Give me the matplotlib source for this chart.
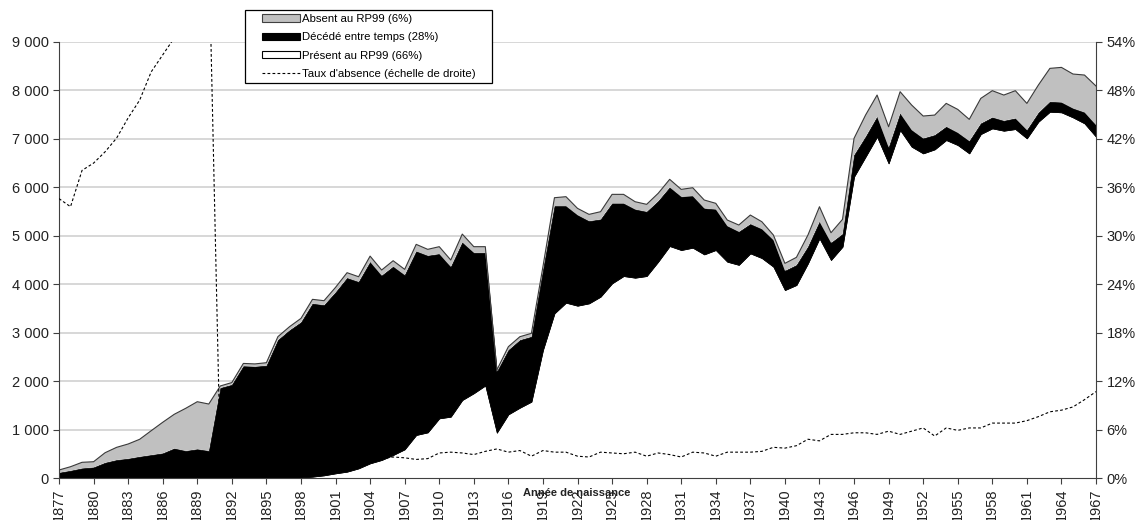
import numpy as np
import matplotlib
matplotlib.use('Agg')
import matplotlib.pyplot as plt
from matplotlib.patches import Patch, Rectangle
from matplotlib.lines import Line2D
from matplotlib.ticker import FuncFormatter

plt.rcParams['font.family'] = ['Liberation Sans', 'DejaVu Sans']

#------- donnees -----------------------------------------------------
annees = np.arange(1877, 1968)

present = [0, 0, 0, 0, 0, 0, 0, 0, 0, 0,
           0, 0, 0, 0, 0, 0, 0, 0, 0, 0,
           0, 10, 28, 55, 96, 131, 199, 303, 372, 475,
           592, 888, 942, 1231, 1266, 1610, 1750, 1910, 936, 1314,
           1452, 1576, 2642, 3399, 3619, 3557, 3605, 3743, 4018, 4169,
           4135, 4169, 4465, 4788, 4706, 4754, 4616, 4706, 4465, 4400,
           4637, 4540, 4362, 3880, 3984, 4431, 4947, 4500, 4775, 6220,
           6632, 7045, 6495, 7183, 6839, 6701, 6784, 6976, 6873, 6701,
           7100, 7217, 7169, 7203, 7011, 7355, 7561, 7548, 7444, 7321,
           7045]

decede = [110, 151, 200, 220, 316, 372, 399, 440, 475, 510,
          610, 560, 595, 560, 1860, 1925, 2310, 2300, 2320, 2850,
          3050, 3205, 3572, 3515, 3739, 3999, 3851, 4157, 3808, 3890,
          3598, 3792, 3648, 3394, 3094, 3255, 2901, 2741, 1259, 1328,
          1396, 1341, 1648, 2215, 1995, 1871, 1699, 1596, 1651, 1500,
          1410, 1328, 1252, 1212, 1101, 1066, 950, 839, 736, 684,
          606, 599, 550, 399, 412, 344, 344, 357, 261, 447,
          413, 413, 330, 344, 344, 310, 296, 276, 255, 255,
          220, 227, 206, 221, 172, 185, 207, 206, 186, 227,
          241]

absent = [55, 82, 124, 116, 206, 261, 303, 359, 501, 640,
          705, 879, 980, 967, 40, 45, 55, 55, 60, 68,
          72, 80, 88, 90, 100, 108, 105, 120, 113, 120,
          117, 143, 130, 150, 140, 170, 124, 124, 34, 69,
          69, 69, 72, 172, 193, 138, 138, 158, 186, 186,
          158, 152, 159, 165, 151, 172, 172, 125, 124, 138,
          185, 151, 104, 152, 159, 241, 309, 206, 303, 344,
          447, 447, 426, 447, 516, 461, 412, 481, 481, 447,
          516, 551, 530, 571, 550, 572, 688, 722, 709, 770,
          805]

# taux d'absence en % (echelle de droite)
taux = [34.6, 33.6, 38.1, 39.0, 40.4, 42.1, 44.6, 46.8, 50.3, 52.4,
        54.5, 60.0, 63.0, 66.0, 2.2, 2.3, 2.4, 2.4, 2.5, 2.3,
        2.3, 2.4, 2.4, 2.5, 2.5, 2.6, 1.8, 2.2, 2.4, 2.6,
        2.5, 2.3, 2.4, 3.1, 3.2, 3.1, 2.9, 3.3, 3.6, 3.2,
        3.4, 2.7, 3.4, 3.2, 3.2, 2.7, 2.6, 3.2, 3.1, 3.0,
        3.2, 2.7, 3.1, 2.9, 2.6, 3.2, 3.1, 2.7, 3.2, 3.2,
        3.2, 3.3, 3.8, 3.7, 4.0, 4.8, 4.6, 5.4, 5.4, 5.6,
        5.6, 5.4, 5.8, 5.4, 5.8, 6.2, 5.2, 6.2, 5.9, 6.2,
        6.2, 6.8, 6.8, 6.8, 7.1, 7.6, 8.2, 8.4, 8.8, 9.7,
        10.7]

noms = ['Absent au RP99 (6%)', 'Décédé entre temps (28%)',
        'Présent au RP99 (66%)', "Taux d'absence (échelle de droite)"]

#------- plotting ----------------------------------------------------
fig = plt.figure(figsize=(11.36, 5.2), dpi=100)
ax = fig.add_axes([59/1136, 1-478/520, (1096-59)/1136, (478-42)/520])

p = np.array(present)
d = p + np.array(decede)
t = d + np.array(absent)

ax.fill_between(annees, 0, p, facecolor='white', edgecolor='black', linewidth=0.5, zorder=2)
ax.fill_between(annees, p, d, facecolor='black', edgecolor='black', linewidth=0.5, zorder=2)
ax.fill_between(annees, d, t, facecolor='#c0c0c0', edgecolor='none', zorder=2)
ax.plot(annees, t, color='#3a3a3a', linewidth=0.8, zorder=3)

ax.set_xlim(1877, 1967)
ax.set_ylim(0, 9000)
ax.set_yticks(np.arange(0, 9001, 1000))
ax.yaxis.set_major_formatter(FuncFormatter(lambda v, pos: '{:,}'.format(int(v)).replace(',', ' ')))
ax.set_xticks(np.arange(1877, 1968, 3))
ax.set_xticklabels([str(a) for a in range(1877, 1968, 3)], rotation=90)
ax.yaxis.grid(True, color='#d4d4d4', linewidth=1.3, zorder=0)
ax.set_axisbelow(True)
for s in ['top', 'right']:
    ax.spines[s].set_visible(False)
ax.spines['left'].set_color('#404040')
ax.spines['bottom'].set_color('#404040')
ax.tick_params(axis='both', direction='out', length=4, color='#404040',
               labelsize=10.5, labelcolor='#222222')

ax2 = ax.twinx()
ax2.plot(annees, taux, color='black', linewidth=0.8, linestyle=(0, (2.5, 2)), zorder=4)
ax2.set_ylim(0, 54)
ax2.set_yticks(np.arange(0, 55, 6))
ax2.yaxis.set_major_formatter(FuncFormatter(lambda v, pos: '{:d}%'.format(int(v))))
for s in ['top', 'left', 'bottom']:
    ax2.spines[s].set_visible(False)
ax2.spines['right'].set_color('#404040')
ax2.tick_params(axis='y', direction='out', length=4, color='#404040',
                labelsize=10.5, labelcolor='#222222')

fig.text(577/1136, 1-493/520, 'Année de naissance', ha='center', va='center',
         fontsize=8, fontweight='bold', color='#222222', zorder=10)

# legende : cadre dessine a part
fig.patches.append(Rectangle((245/1136, 1-83/520), (492-245)/1136, (83-10)/520,
                             transform=fig.transFigure, facecolor='white',
                             edgecolor='black', linewidth=0.9, zorder=5))
handles = [Patch(facecolor='#c0c0c0', edgecolor='#404040', linewidth=0.8),
           Patch(facecolor='black', edgecolor='black', linewidth=0.8),
           Patch(facecolor='white', edgecolor='black', linewidth=0.8),
           Line2D([], [], color='black', linewidth=0.8, linestyle=(0, (2.5, 2)))]
lgd = fig.legend(handles, noms, loc='upper left', bbox_to_anchor=(262/1136, 1-14/520),
                 fontsize=8.2, frameon=False,
                 handlelength=3.3, handleheight=0.6, handletextpad=0.25,
                 labelspacing=0.74, borderpad=0, borderaxespad=0)
lgd.set_zorder(6)

plt.savefig('out.png', dpi=100)
